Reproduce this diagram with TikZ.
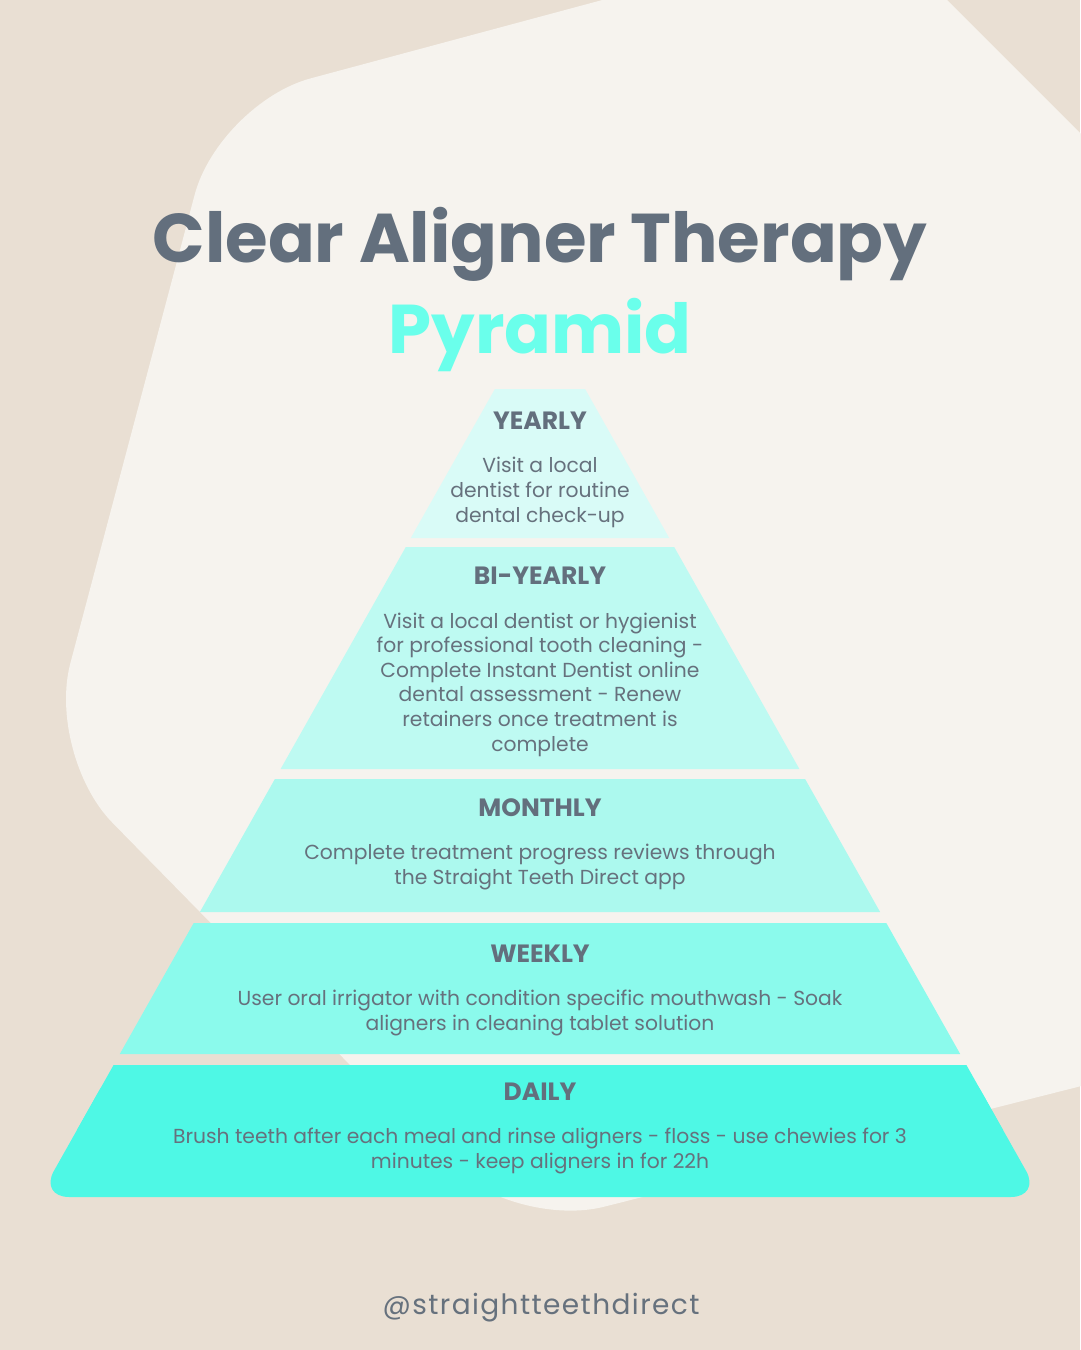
\documentclass[tikz,border=0pt]{standalone}
\usepackage{fontspec}
\setmainfont{Poppins}
\newfontfamily\footfont[LetterSpace=5]{Poppins}
\definecolor{beige}{HTML}{E9DFD3}
\definecolor{cream}{HTML}{F6F3EE}
\definecolor{slate}{HTML}{636F7D}
\definecolor{bodyc}{HTML}{66717D}
\definecolor{aqua}{HTML}{6AFFEB}
\definecolor{tierA}{HTML}{D9FBF7}
\definecolor{tierB}{HTML}{BEFAF2}
\definecolor{tierC}{HTML}{ACF9EE}
\definecolor{tierD}{HTML}{8BFAEC}
\definecolor{tierE}{HTML}{4EF8E5}
\begin{document}
\begin{tikzpicture}[x=1pt,y=-1pt,
  titletext/.style={font=\fontsize{69pt}{80pt}\selectfont\bfseries, anchor=base, inner sep=0pt},
  headtext/.style={font=\fontsize{25pt}{28pt}\selectfont\bfseries, text=slate, anchor=base, inner sep=0pt},
  bodytext/.style={font=\fontsize{20.3pt}{24.6pt}\selectfont, text=bodyc, align=center, anchor=base, inner sep=0pt},
  foottext/.style={font=\fontsize{28pt}{32pt}\footfont, text=bodyc, anchor=base, inner sep=0pt}]
\useasboundingbox (0,0) rectangle (1080,1350);
\fill[beige] (0,0) rectangle (1080,1350);
% light background shape
\fill[cream, rounded corners=95pt] (874,-73) -- (219,103) -- (46,755) -- (512,1230) -- (1200,1056) -- (1200,253) -- cycle;
% pyramid tiers
\fill[tierA] (494.9,389) -- (585.1,389) -- (669.2,538) -- (410.8,538) -- cycle;
\fill[tierB] (405.8,547) -- (674.2,547) -- (799.4,769) -- (280.6,769) -- cycle;
\fill[tierC] (274.9,779) -- (805.1,779) -- (880.1,912) -- (199.9,912) -- cycle;
\fill[tierD] (193.7,923) -- (886.3,923) -- (960.2,1054) -- (119.8,1054) -- cycle;
\fill[tierE, rounded corners=30pt] (113.6,1065) -- (966.4,1065) -- (1040.8,1197) -- (39.2,1197) -- cycle;
\fill[tierE] (113.6,1065) -- (966.4,1065) -- (1003,1130) -- (77,1130) -- cycle;
% title
\node[titletext, text=slate] (title) at (540,262) {Clear Aligner Therapy};
\node[titletext, text=aqua] (sub) at (540,353) {Pyramid};
% tier texts (base anchor = last line's baseline)
\node[headtext] (h1) at (540,429) {YEARLY};
\node[bodytext] (b1) at (540,522) {Visit a local\\dentist for routine\\dental check-up};
\node[headtext] (h2) at (540,584) {BI-YEARLY};
\node[bodytext] (b2) at (540,751) {Visit a local dentist or hygienist\\for professional tooth cleaning -\\Complete Instant Dentist online\\dental assessment - Renew\\retainers once treatment is\\complete};
\node[headtext] (h3) at (540,816) {MONTHLY};
\node[bodytext] (b3) at (540,884) {Complete treatment progress reviews through\\the Straight Teeth Direct app};
\node[headtext] (h4) at (540,962) {WEEKLY};
\node[bodytext] (b4) at (540,1030) {User oral irrigator with condition specific mouthwash - Soak\\aligners in cleaning tablet solution};
\node[headtext] (h5) at (540,1100) {DAILY};
\node[bodytext] (b5) at (540,1168) {Brush teeth after each meal and rinse aligners - floss - use chewies for 3\\minutes - keep aligners in for 22h};
% footer
\node[foottext] (foot) at (541,1314) {@straightteethdirect};
\end{tikzpicture}
\end{document}
